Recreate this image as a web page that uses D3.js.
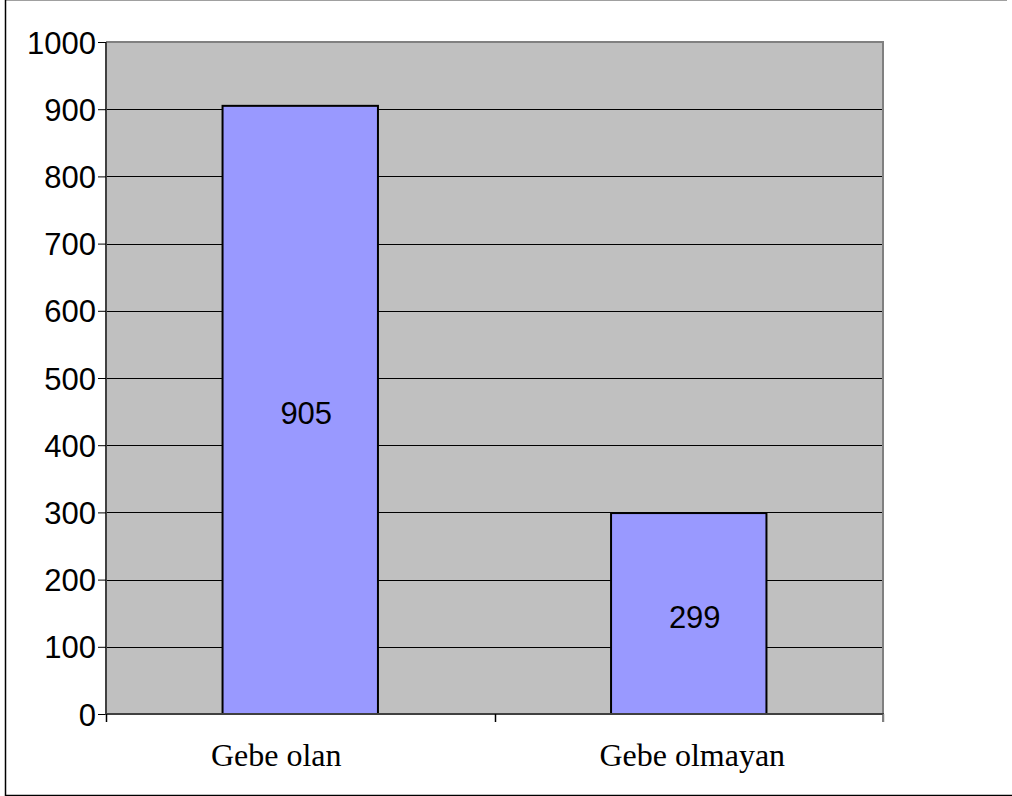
<!DOCTYPE html>
<html>
<head>
<meta charset="utf-8">
<script src="https://cdn.jsdelivr.net/npm/d3@7"></script>
<style>
  html, body { margin: 0; padding: 0; background: #ffffff; }
  svg { display: block; }
</style>
</head>
<body>
<svg id="chart" width="1012" height="796"></svg>
<script>
// Pregnancy status counts
const categories = ["Gebe olan", "Gebe olmayan"];
const values = [905, 299];
const yTicks = [0, 100, 200, 300, 400, 500, 600, 700, 800, 900, 1000];

const svg = d3.select("#chart");
const plot = { left: 106, right: 883, top: 42, bottom: 714 };

// Outer frame
svg.append("line").attr("x1", 5).attr("x2", 1007).attr("y1", 0.5).attr("y2", 0.5)
  .attr("stroke", "#a0a0a0").attr("stroke-width", 1);
svg.append("line").attr("x1", 5.5).attr("x2", 5.5).attr("y1", 0).attr("y2", 796)
  .attr("stroke", "#000").attr("stroke-width", 1.5);
svg.append("line").attr("x1", 5).attr("x2", 1012).attr("y1", 795.5).attr("y2", 795.5)
  .attr("stroke", "#000").attr("stroke-width", 1.5);

const x = d3.scaleBand().domain(categories).range([plot.left, plot.right]).padding(0);
const y = d3.scaleLinear().domain([0, 1000]).range([plot.bottom, plot.top]);

// Plot background
svg.append("rect")
  .attr("x", plot.left).attr("y", plot.top)
  .attr("width", plot.right - plot.left).attr("height", plot.bottom - plot.top)
  .attr("fill", "#c0c0c0");

// Horizontal gridlines
svg.append("g").selectAll("line")
  .data(yTicks.filter(t => t > 0 && t < 1000))
  .join("line")
  .attr("x1", plot.left).attr("x2", plot.right)
  .attr("y1", d => Math.round(y(d)) + 0.5).attr("y2", d => Math.round(y(d)) + 0.5)
  .attr("stroke", "#000").attr("stroke-width", 1);

// Plot border: top and right lighter
svg.append("line").attr("x1", plot.left).attr("x2", plot.right + 1)
  .attr("y1", plot.top).attr("y2", plot.top)
  .attr("stroke", "#808080").attr("stroke-width", 2);
svg.append("line").attr("x1", plot.right).attr("x2", plot.right)
  .attr("y1", plot.top).attr("y2", plot.bottom + 8)
  .attr("stroke", "#808080").attr("stroke-width", 2);

// Bars
const barW = x.bandwidth() * 0.4;
svg.append("g").selectAll("rect")
  .data(values)
  .join("rect")
  .attr("x", (d, i) => x(categories[i]) + (x.bandwidth() - barW) / 2)
  .attr("y", d => y(d))
  .attr("width", barW)
  .attr("height", d => y(0) - y(d))
  .attr("fill", "#9999ff")
  .attr("stroke", "#000")
  .attr("stroke-width", 2);

// Value labels inside bars
svg.append("g").selectAll("text")
  .data(values)
  .join("text")
  .attr("x", (d, i) => x(categories[i]) + x.bandwidth() / 2 + 6)
  .attr("y", d => (y(d) + y(0)) / 2 + 14)
  .attr("text-anchor", "middle")
  .attr("font-family", "'Liberation Sans', Arial, sans-serif")
  .attr("font-size", 31)
  .attr("fill", "#000")
  .text(d => d);

// Y axis
const yAxis = svg.append("g")
  .attr("transform", `translate(${plot.left},0)`)
  .call(d3.axisLeft(y).tickValues(yTicks).tickSize(8).tickPadding(2).tickFormat(d3.format("d")));
yAxis.select(".domain").attr("stroke", "#404040").attr("stroke-width", 2)
  .attr("d", `M0,${plot.top}V${plot.bottom}`);
yAxis.selectAll(".tick line").attr("stroke", "#000").attr("stroke-width", 1);
yAxis.selectAll(".tick text")
  .attr("font-family", "'Liberation Sans', Arial, sans-serif")
  .attr("font-size", 31)
  .attr("fill", "#000")
  .attr("dy", "0.36em");

// X axis: ticks at category boundaries
const xAxisG = svg.append("g");
xAxisG.append("line")
  .attr("x1", plot.left - 1).attr("x2", plot.right + 1)
  .attr("y1", plot.bottom).attr("y2", plot.bottom)
  .attr("stroke", "#404040").attr("stroke-width", 2);
const boundaries = categories.map(c => x(c)).concat([x(categories[categories.length - 1]) + x.bandwidth()]);
xAxisG.selectAll("line.tick")
  .data(boundaries)
  .join("line")
  .attr("class", "tick")
  .attr("x1", d => Math.round(d) + 0.5).attr("x2", d => Math.round(d) + 0.5)
  .attr("y1", plot.bottom).attr("y2", plot.bottom + 8)
  .attr("stroke", (d, i) => i === boundaries.length - 1 ? "#808080" : "#000")
  .attr("stroke-width", 1.5);

// Category labels
xAxisG.selectAll("text")
  .data(categories)
  .join("text")
  .attr("x", d => x(d) + x.bandwidth() * 0.27)
  .attr("y", 766)
  .attr("text-anchor", "start")
  .attr("font-family", "'Liberation Serif', 'Times New Roman', serif")
  .attr("font-size", 32)
  .attr("fill", "#000")
  .text(d => d);
</script>
</body>
</html>
